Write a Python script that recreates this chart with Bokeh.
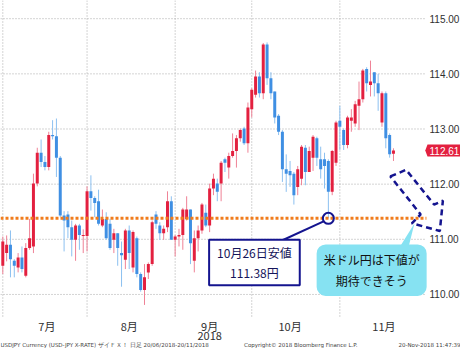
from bokeh.plotting import figure
from bokeh.models import Range1d, Label, PolyAnnotation, ColumnDataSource
from bokeh.embed import file_html
from bokeh.resources import INLINE
from bokeh.core.properties import value

# ---------------- data (USD/JPY daily candles, trading-day index) ----------------
OPEN = [110.52, 110.75, 110.90, 110.61, 110.49, 110.67, 110.34, 110.84, 110.87, 112.01,
        112.57, 112.40, 112.31, 112.89, 112.87, 112.48, 111.43, 111.45, 111.22, 110.99,
        111.25, 111.06, 111.06, 111.87, 111.75, 111.69, 111.25, 111.37, 111.28, 110.99,
        111.11, 110.75, 110.63, 111.16, 110.49, 111.02, 110.37, 110.08, 110.40, 110.55,
        111.45, 111.25, 111.11, 111.22, 111.69, 110.99, 111.05, 111.08, 111.37, 111.54,
        110.61, 111.02, 111.16, 111.48, 111.25, 111.92, 112.01, 112.01, 112.45, 112.30,
        112.51, 112.60, 112.83, 113.01, 112.74, 113.36, 113.62, 113.95, 113.65, 114.53,
        113.92, 113.68, 113.24, 112.95, 112.27, 112.24, 112.19, 111.95, 112.10, 112.66,
        112.22, 112.48, 112.83, 112.45, 112.45, 112.42, 111.86, 112.39, 113.15, 112.98,
        112.71, 113.15, 113.10, 113.42, 113.54, 114.09, 113.80, 114.03, 113.83, 113.12,
        113.65, 112.89, 112.55]
HIGH = [111.05, 111.07, 111.16, 110.64, 110.75, 110.87, 110.93, 111.37, 112.19, 112.66,
        112.81, 112.51, 112.95, 113.16, 113.19, 112.51, 111.51, 111.51, 111.34, 111.28,
        111.28, 111.18, 111.96, 112.16, 111.78, 111.90, 111.54, 111.49, 111.37, 111.19,
        111.11, 110.96, 111.19, 111.25, 111.16, 111.05, 110.40, 110.55, 110.58, 111.34,
        111.51, 111.31, 111.25, 111.87, 111.78, 111.08, 111.19, 111.57, 111.78, 111.54,
        111.16, 111.25, 111.66, 111.63, 112.01, 112.19, 112.10, 112.42, 112.48, 112.57,
        112.92, 112.89, 113.01, 113.04, 113.48, 113.74, 114.06, 114.03, 114.56, 114.57,
        114.03, 113.68, 113.27, 112.98, 112.54, 112.42, 112.22, 112.33, 112.71, 112.71,
        112.68, 112.89, 112.86, 112.68, 112.57, 112.45, 112.62, 113.15, 113.42, 113.01,
        113.24, 113.36, 113.51, 113.86, 114.09, 114.12, 114.24, 114.03, 114.00, 113.68,
        113.68, 112.92, 112.65]
LOW = [110.37, 110.60, 110.31, 110.31, 110.40, 110.40, 110.31, 110.81, 110.75, 111.96,
       112.31, 112.25, 112.25, 112.81, 112.13, 111.40, 110.78, 111.02, 110.69, 110.61,
       110.81, 110.75, 110.78, 111.52, 111.40, 111.25, 111.22, 110.99, 110.81, 110.75,
       110.52, 110.14, 110.46, 110.46, 110.40, 110.31, 110.05, 109.81, 110.28, 110.52,
       111.19, 110.99, 110.99, 111.13, 110.99, 110.69, 110.87, 110.81, 111.34, 110.55,
       110.40, 110.78, 111.10, 111.22, 111.13, 111.80, 111.69, 111.69, 112.22, 112.10,
       112.48, 112.30, 112.77, 112.71, 112.57, 113.21, 113.57, 113.57, 113.54, 113.80,
       113.54, 113.10, 112.89, 112.04, 111.86, 111.95, 111.63, 111.80, 111.98, 111.98,
       112.22, 112.24, 112.33, 112.10, 111.92, 111.38, 111.80, 112.33, 112.62, 112.62,
       112.65, 112.95, 113.04, 112.98, 113.48, 113.68, 113.59, 113.59, 113.33, 113.04,
       112.65, 112.48, 112.42]
CLOSE = [110.96, 110.90, 110.64, 110.52, 110.67, 110.46, 110.84, 111.02, 112.01, 112.57,
         112.40, 112.31, 112.89, 112.87, 112.48, 111.43, 111.34, 111.22, 110.99, 111.25,
         111.08, 111.08, 111.87, 111.75, 111.66, 111.28, 111.37, 111.02, 110.84, 111.11,
         110.84, 110.71, 111.16, 110.75, 111.13, 110.37, 110.08, 110.31, 110.55, 111.31,
         111.28, 111.11, 111.19, 111.69, 110.99, 111.05, 111.08, 111.54, 111.54, 110.93,
         111.02, 111.16, 111.63, 111.25, 111.92, 112.10, 111.86, 112.39, 112.39, 112.51,
         112.60, 112.83, 112.98, 112.74, 113.39, 113.71, 113.95, 113.65, 114.53, 113.92,
         113.65, 113.21, 112.95, 112.27, 112.19, 112.16, 111.80, 112.27, 112.68, 112.22,
         112.60, 112.86, 112.48, 112.27, 112.33, 111.86, 112.60, 113.12, 113.04, 112.71,
         113.21, 113.21, 113.45, 113.54, 114.06, 113.83, 113.86, 113.83, 113.65, 113.65,
         112.83, 112.54, 112.61]
DAY_INDEX = list(range(len(CLOSE)))
MONTH_START_INDEX = [0, 22, 45, 65, 88]
MONTH_LABEL_POS = [11.5, 33.0, 54.0, 75.0, 99.5]
MONTH_LABELS = ["7月", "8月", "9月", "10月", "11月"]
YEAR_LABEL = "2018"
YEAR_LABEL_POS = 54.0
Y_TICKS = [110, 111, 112, 113, 114, 115]
LOW_INDEX = 85
LOW_TEXT = "10月26日安値"
BUBBLE_TEXT = "米ドル円は下値が\n期待できそう"
FOOTER_LEFT = "USDJPY Currency (USD-JPY X-RATE)  ザイＦＸ！  日足 20/06/2018-20/11/2018"
FOOTER_MID = "Copyright© 2018 Bloomberg Finance L.P."
FOOTER_RIGHT = "20-Nov-2018 11:47:39"

# ---------------- style / layout ----------------
UP_BODY, UP_WICK = "#e3203f", "#ef8296"
DN_BODY, DN_WICK = "#3f8fe3", "#8cc0f0"
NAVY = "#14148f"
CYAN = "#86e2f2"
ORANGE = "#f07c1c"
GRID = "#a8a8a8"
TXT = "#303030"
JP = "Noto Sans CJK JP"
W, H = 460, 348
PLOT_H = 316                                      # height of the candle area in px
X_LO, X_PLOT_HI, X_HI = -0.6, 110.1, 119.5       # price scale sits right of X_PLOT_HI
Y_LO, Y_HI = 109.60, 115.33                      # candle area
PX = PLOT_H / (Y_HI - Y_LO)                      # px per yen
XPX = W / (X_HI - X_LO)                          # px per day
Y_BOTTOM = Y_LO - (H - PLOT_H) / PX              # frame reaches the bottom of the figure

up = [c >= o for o, c in zip(OPEN, CLOSE)]
src = ColumnDataSource(dict(
    x=DAY_INDEX,
    high=HIGH, low=LOW,
    top=[max(o, c) for o, c in zip(OPEN, CLOSE)],
    bottom=[min(o, c) for o, c in zip(OPEN, CLOSE)],
    body=[UP_BODY if u else DN_BODY for u in up],
    wick=[UP_WICK if u else DN_WICK for u in up],
))

p = figure(width=W, height=H, x_range=Range1d(X_LO, X_HI), y_range=Range1d(Y_BOTTOM, Y_HI),
           toolbar_location=None, output_backend="svg",
           min_border_left=0, min_border_right=0, min_border_top=0, min_border_bottom=0)
p.outline_line_color = None
p.background_fill_color = "white"
p.border_fill_color = "white"
p.xaxis.visible = False
p.yaxis.visible = False
p.xgrid.visible = False
p.ygrid.visible = False

# dotted grid limited to the candle area
p.segment(x0=[X_LO] * len(Y_TICKS), y0=Y_TICKS, x1=[X_PLOT_HI] * len(Y_TICKS), y1=Y_TICKS,
          line_color=GRID, line_dash="1 2", line_width=1)
p.segment(x0=MONTH_START_INDEX, y0=[Y_LO] * len(MONTH_START_INDEX), x1=MONTH_START_INDEX,
          y1=[Y_HI] * len(MONTH_START_INDEX), line_color=GRID, line_dash="1 2", line_width=1)

# price scale on the right
LABEL_X = X_PLOT_HI + 5 / XPX
p.text(x=[LABEL_X] * len(Y_TICKS), y=Y_TICKS, text=[f"{v:.2f}" for v in Y_TICKS],
       text_align="left", text_baseline="middle", text_font=value("Liberation Sans"),
       text_font_size="10px", text_color=TXT)

# month labels and year
p.text(x=MONTH_LABEL_POS, y=[Y_LO - 9 / PX] * len(MONTH_LABEL_POS), text=MONTH_LABELS,
       text_align="center", text_baseline="middle", text_font=value(JP),
       text_font_size="11px", text_color=TXT)
p.text(x=[YEAR_LABEL_POS], y=[Y_LO - 19.5 / PX], text=[YEAR_LABEL], text_align="center",
       text_baseline="middle", text_font=value(JP), text_font_size="11px", text_color=TXT)

# candles
p.segment(x0="x", y0="high", x1="x", y1="low", line_color="wick", line_width=1, source=src)
p.vbar(x="x", width=0.78, top="top", bottom="bottom", fill_color="body", line_color=None, source=src)

# support line at the October low
p.segment(x0=[X_LO], y0=[LOW[LOW_INDEX]], x1=[X_PLOT_HI + 0.5], y1=[LOW[LOW_INDEX]],
          line_color=ORANGE, line_width=3, line_dash="3 2")

# circle at the low + connector
p.scatter(x=[LOW_INDEX], y=[LOW[LOW_INDEX]], size=11, fill_color=None, line_color=NAVY, line_width=2)
p.segment(x0=[72.3], y0=[110.96], x1=[LOW_INDEX - 1.1], y1=[LOW[LOW_INDEX] - 0.05],
          line_color=NAVY, line_width=2)

# low annotation box
p.add_layout(Label(x=65.7, y=110.58, text=f"{LOW_TEXT}\n{LOW[LOW_INDEX]:.2f}円",
                   text_align="center", text_baseline="middle", text_font=JP,
                   text_font_size="12px", text_color="#15155a",
                   background_fill_color="white", border_line_color=NAVY, border_line_width=2,
                   padding=dict(left=8, right=8, top=4, bottom=4)))

# cyan speech bubble with pointer
BUB_Y = 110.44
p.patch(x=[102.8, 105.6, 107.5], y=[BUB_Y + 18 / PX, BUB_Y + 18 / PX, 111.29],
        fill_color=CYAN, line_color=None)
p.add_layout(Label(x=96.3, y=BUB_Y, text=BUBBLE_TEXT, text_align="center", text_baseline="middle",
                   text_font=JP, text_font_size="12px", text_color="#111111",
                   background_fill_color=CYAN, border_radius=9,
                   padding=dict(left=7, right=7, top=7, bottom=7)))

# dashed arrow pointing down-right
p.add_layout(PolyAnnotation(xs=[101.2, 105.3, 112.6, 114.9, 114.1, 106.8, 109.1],
                            ys=[112.14, 112.26, 111.63, 111.70, 111.15, 111.29, 111.45],
                            fill_alpha=0, line_color=NAVY, line_alpha=1, line_width=2.5,
                            line_dash="6 4"))

# last price tag
last = CLOSE[-1]
half = 6 / PX
p.patch(x=[X_PLOT_HI + 0.2, LABEL_X - 2 / XPX, X_HI, X_HI, LABEL_X - 2 / XPX],
        y=[last, last + half, last + half, last - half, last - half],
        fill_color=UP_BODY, line_color=None)
p.text(x=[LABEL_X], y=[last], text=[f"{last:.2f}"], text_align="left", text_baseline="middle",
       text_font=value("Liberation Sans"), text_font_size="10px", text_color="white")

# footer
FOOT_Y = Y_LO - 28.5 / PX
p.text(x=[X_LO, 63.0, X_HI], y=[FOOT_Y] * 3, text=[FOOTER_LEFT, FOOTER_MID, FOOTER_RIGHT],
       text_align=["left", "left", "right"], text_baseline="middle",
       text_font=value("DejaVu Sans"), text_font_size="5.5px", text_color="#444444")

open("out.html", "w").write(file_html(p, INLINE))
